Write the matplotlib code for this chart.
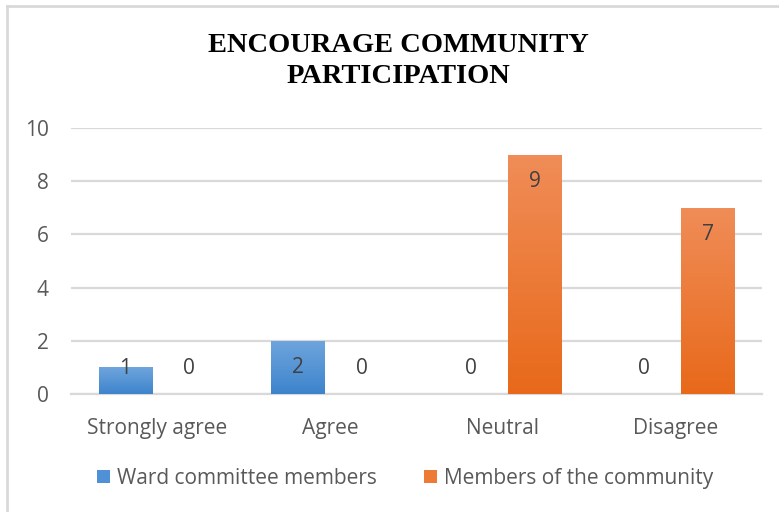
import numpy as np
import matplotlib.pyplot as plt
from matplotlib.colors import LinearSegmentedColormap
from matplotlib.lines import Line2D
from matplotlib.patches import Patch
import matplotlib.patheffects as pe

categories = ["Strongly agree", "Agree", "Neutral", "Disagree"]
ward = [1, 2, 0, 0]
community = [0, 0, 9, 7]
series_names = ["Ward committee members", "Members of the community"]
yticks = [0, 2, 4, 6, 8, 10]

plt.rcParams['font.family'] = ['Open Sans', 'DejaVu Sans']
text_gray = "#595959"
grid_gray = "#d9d9d9"

fig = plt.figure(figsize=(7.79, 5.12), dpi=100)
ax = fig.add_axes([0.0911, 0.2305, 0.887, 0.5195])

# outer chart border (left and top edges only show)
fig.add_artist(Line2D([0.0085, 0.0085], [0, 0.988], transform=fig.transFigure,
                      color=grid_gray, lw=2))
fig.add_artist(Line2D([0.0085, 1], [0.988, 0.988], transform=fig.transFigure,
                      color=grid_gray, lw=2))

x = np.arange(len(categories))
width = 0.31
offset = 0.185

blue_cmap = LinearSegmentedColormap.from_list("b", ["#3d84cc", "#6fa5dd"])
orange_cmap = LinearSegmentedColormap.from_list("o", ["#e8691a", "#f08d58"])


def gradient_bars(xs, vals, cmap):
    bars = ax.bar(xs, vals, width, color="none", zorder=3)
    for b, v in zip(bars, vals):
        if v <= 0:
            continue
        x0, y0 = b.get_x(), b.get_y()
        w, h = b.get_width(), b.get_height()
        # soft shadow behind bar
        shadow = plt.Rectangle((x0, y0), w, h, facecolor="#bbbbbb", edgecolor="none",
                               zorder=2, alpha=0.5,
                               path_effects=[pe.SimplePatchShadow(offset=(0, 0),
                                                                  shadow_rgbFace="#999999",
                                                                  alpha=0.35),
                                             pe.Normal()])
        ax.add_patch(shadow)
        grad = np.linspace(0, 1, 256).reshape(-1, 1)
        im = ax.imshow(grad, cmap=cmap, origin="lower", aspect="auto",
                       extent=(x0, x0 + w, y0, y0 + h), zorder=3)
        im.set_clip_path(b)
    return bars


gradient_bars(x - offset, ward, blue_cmap)
gradient_bars(x + offset, community, orange_cmap)

# value labels at the inside end of each bar
for xs, vals in ((x - offset, ward), (x + offset, community)):
    for xi, v in zip(xs, vals):
        ax.text(xi, max(v - 1, 0.95), str(v), ha="center", va="center",
                fontsize=15, color="#404040", zorder=5)

ax.set_xlim(-0.5, len(categories) - 0.5)
ax.set_ylim(0, 10)
ax.set_yticks(yticks)
ax.set_xticks(x)
ax.set_xticklabels(categories)
ax.tick_params(axis="both", length=0, labelsize=15, labelcolor=text_gray)
ax.tick_params(axis="x", pad=17)
ax.tick_params(axis="y", pad=16)
ax.grid(axis="y", color=grid_gray, lw=1.6, zorder=0)
ax.set_axisbelow(True)
for s in ["top", "right", "left"]:
    ax.spines[s].set_visible(False)
ax.spines["bottom"].set_color(grid_gray)
ax.spines["bottom"].set_linewidth(1.6)

fig.text(0.512, 0.881, "ENCOURAGE COMMUNITY\nPARTICIPATION", ha="center", va="center",
         family="Liberation Serif", fontweight="bold", fontsize=20.5,
         linespacing=1.33, color="black")

handles = [Patch(facecolor="#4f90d6", edgecolor="none"),
           Patch(facecolor="#ee7b35", edgecolor="none")]
fig.legend(handles, series_names, loc="center", bbox_to_anchor=(0.52, 0.066),
           ncol=2, frameon=False, fontsize=15, labelcolor=text_gray,
           handlelength=0.63, handleheight=0.63, handletextpad=0.34,
           columnspacing=2.26)

fig.savefig("out.png", dpi=100)
